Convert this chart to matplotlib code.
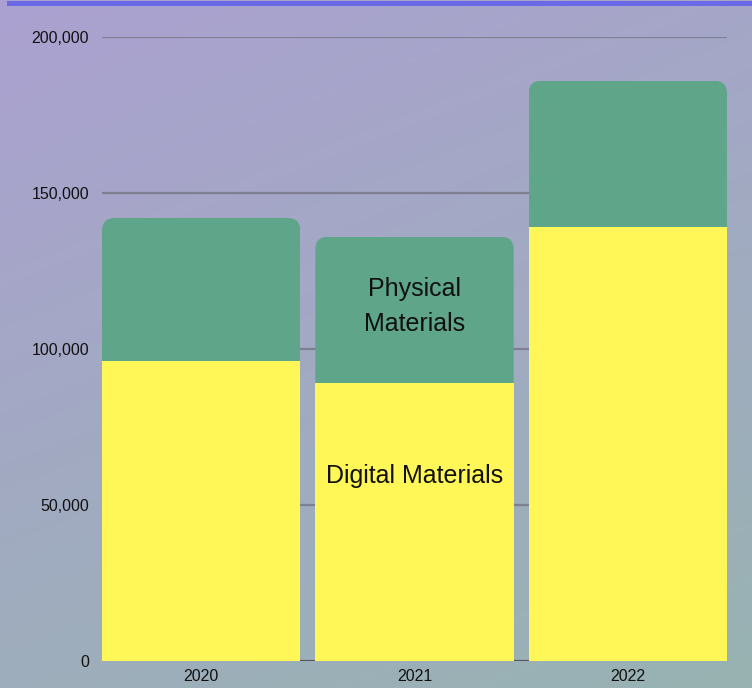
import numpy as np
import matplotlib
matplotlib.use("Agg")
import matplotlib.pyplot as plt
from matplotlib.patches import FancyBboxPatch

years = ["2020", "2021", "2022"]
digital = [96000, 89000, 139000]
physical = [46000, 47000, 47000]
yticks = [0, 50000, 100000, 150000, 200000]
ytick_labels = ["0", "50,000", "100,000", "150,000", "200,000"]

plt.rcParams["font.family"] = ["Liberation Sans", "DejaVu Sans"]

W, H = 752, 688
fig = plt.figure(figsize=(W / 100, H / 100), dpi=100)

# gradient background
bg = fig.add_axes([0, 0, 1, 1], zorder=-10)
xx, yy = np.meshgrid(np.linspace(0, 1, 200), np.linspace(0, 1, 200))
t = np.clip(0.7 * yy + 0.3 * xx, 0, 1)[..., None]
c0 = np.array([171, 161, 209]) / 255
c1 = np.array([152, 179, 178]) / 255
img = c0 * (1 - t) + c1 * t
bg.imshow(img, extent=[0, 1, 0, 1], aspect="auto", origin="upper")
bg.axis("off")
# top accent line
bg.add_patch(plt.Rectangle((7 / W, 1 - 6 / H), 1, 5 / H, color="#6a6ae6", lw=0))
bg.set_xlim(0, 1)
bg.set_ylim(0, 1)

left, right = 102 / W, 727 / W
bottom, top = (H - 661) / H, (H - 37) / H
ax = fig.add_axes([left, bottom, right - left, top - bottom])
ax.patch.set_alpha(0)

x = np.arange(len(years))
width = 0.93
ax.set_xlim(-width / 2, len(years) - 1 + width / 2)
ax.set_ylim(0, 200000)

for s in ax.spines.values():
    s.set_visible(False)

ax.set_yticks(yticks)
ax.set_yticklabels(ytick_labels)
ax.set_xticks(x)
ax.set_xticklabels(years)
ax.tick_params(axis="both", length=0, labelsize=11.5, labelcolor="#111111")
ax.tick_params(axis="y", pad=9.3)
ax.tick_params(axis="x", pad=6)
ax.yaxis.grid(True, color="#7f7f92", lw=1.6)
ax.set_axisbelow(True)
ax.axhline(0, color="#555560", lw=2.2, zorder=1)

bars_d = ax.bar(x, digital, width=width, color="#fff757", zorder=3, lw=0)
bars_p = ax.bar(x, physical, width=width, bottom=digital, color="#5ea58a", zorder=2, lw=0)

# rounded top corners via clip path
xpp = (ax.get_xlim()[1] - ax.get_xlim()[0]) / (W * (right - left))
ypp = 200000 / (H * (top - bottom))
aspect = ypp / xpp
r = 13 * xpp
for b in bars_p:
    x0 = b.get_x()
    w = b.get_width()
    y1 = b.get_y() + b.get_height()
    clip = FancyBboxPatch((x0, -50000), w, y1 + 50000,
                          boxstyle=f"round,pad=0,rounding_size={r}",
                          mutation_aspect=aspect, transform=ax.transData,
                          facecolor="none", edgecolor="none")
    ax.add_patch(clip)
    b.set_clip_path(clip)

ax.text(1, 113600, "Physical\nMaterials", ha="center", va="center",
        fontsize=18, color="#111111", linespacing=1.55, zorder=5)
ax.text(1, 59400, "Digital Materials", ha="center", va="center",
        fontsize=18, color="#111111", zorder=5)

fig.savefig("out.png", dpi=100)
